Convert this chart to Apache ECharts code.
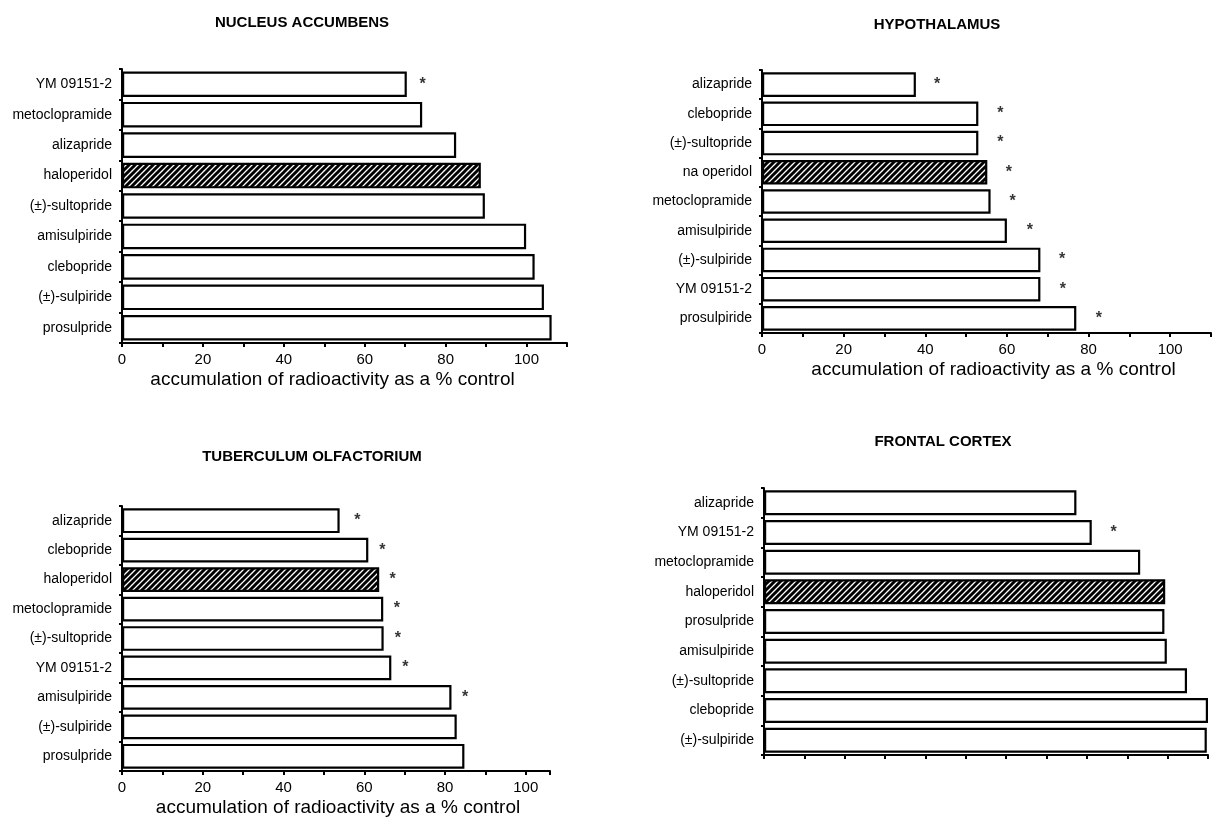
<!DOCTYPE html>
<html>
<head>
<meta charset="utf-8">
<script src="https://cdn.jsdelivr.net/npm/echarts@6/dist/echarts.min.js"></script>
<style>
html,body{margin:0;padding:0;background:#fff;}
#c{width:1215px;height:825px;}
</style>
</head>
<body>
<div id="c"></div>
<script>
// ---- data ----
const titles = ['NUCLEUS ACCUMBENS', 'HYPOTHALAMUS', 'TUBERCULUM OLFACTORIUM', 'FRONTAL CORTEX'];
const axisName = 'accumulation of radioactivity as a % control';

const naCats  = ['YM 09151-2', 'metoclopramide', 'alizapride', 'haloperidol', '(±)-sultopride', 'amisulpiride', 'clebopride', '(±)-sulpiride', 'prosulpride'];
const naVals  = [70.4, 74.2, 82.6, 88.7, 89.7, 99.9, 102, 104.3, 106.2];
const naStars = [74.3, null, null, null, null, null, null, null, null];

const hyCats  = ['alizapride', 'clebopride', '(±)-sultopride', 'na operidol', 'metoclopramide', 'amisulpiride', '(±)-sulpiride', 'YM 09151-2', 'prosulpiride'];
const hyVals  = [37.7, 53, 53, 55.2, 56, 60, 68.2, 68.2, 77];
const hyStars = [42.9, 58.4, 58.4, 60.5, 61.4, 65.6, 73.5, 73.7, 82.5];

const toCats  = ['alizapride', 'clebopride', 'haloperidol', 'metoclopramide', '(±)-sultopride', 'YM 09151-2', 'amisulpiride', '(±)-sulpiride', 'prosulpride'];
const toVals  = [53.9, 61, 63.7, 64.7, 64.8, 66.7, 81.6, 82.9, 84.8];
const toStars = [58.3, 64.5, 67, 68.1, 68.3, 70.2, 85, null, null];

const fcCats  = ['alizapride', 'YM 09151-2', 'metoclopramide', 'haloperidol', 'prosulpride', 'amisulpiride', '(±)-sultopride', 'clebopride', '(±)-sulpiride'];
const fcVals  = [77.4, 81.2, 93.2, 99.4, 99.2, 99.8, 104.8, 110, 109.7];
const fcStars = [null, 86.6, null, null, null, null, null, null, null];

const tickLabels = [0, 20, 40, 60, 80, 100];

// ---- hatch pattern ----
function makeHatch() {
  const s = 6;
  const cv = document.createElement('canvas');
  cv.width = s; cv.height = s;
  const ctx = cv.getContext('2d');
  ctx.fillStyle = '#fff';
  ctx.fillRect(0, 0, s, s);
  ctx.strokeStyle = '#000';
  ctx.lineWidth = 3;
  ctx.beginPath();
  ctx.moveTo(-1, s + 1); ctx.lineTo(s + 1, -1);
  ctx.moveTo(-1, 1); ctx.lineTo(1, -1);
  ctx.moveTo(s - 1, s + 1); ctx.lineTo(s + 1, s - 1);
  ctx.stroke();
  return cv;
}
const hatch = makeHatch();

const FONT = '"Liberation Sans", Arial, Helvetica, sans-serif';

const panels = [
  { cats: naCats, vals: naVals, stars: naStars, grid: { left: 122, top: 69, width: 445, height: 274 }, max: 110, labels: true, namePad: [0, 24, 0, 0], title: { left: 297, top: 10 } },
  { cats: hyCats, vals: hyVals, stars: hyStars, grid: { left: 762, top: 70, width: 449, height: 263 }, max: 110, labels: true, namePad: [0, 0, 0, 14], title: { left: 932, top: 12 } },
  { cats: toCats, vals: toVals, stars: toStars, grid: { left: 122, top: 506, width: 428, height: 265 }, max: 106, labels: true, namePad: [0, 0, 0, 4], title: { left: 307, top: 444 } },
  { cats: fcCats, vals: fcVals, stars: fcStars, grid: { left: 764, top: 488, width: 444, height: 267 }, max: 110, labels: false, namePad: [0, 0, 0, 0], title: { left: 938, top: 429 } }
];

const option = {
  backgroundColor: '#fff',
  animation: false,
  title: panels.map((p, i) => ({
    text: titles[i], left: p.title.left, top: p.title.top, textAlign: 'center',
    textStyle: { fontFamily: FONT, fontSize: 15, fontWeight: 'bold', color: '#000' }
  })),
  grid: panels.map(p => Object.assign({ containLabel: false }, p.grid)),
  xAxis: panels.map((p, i) => ({
    type: 'value', gridIndex: i, min: 0, max: p.max, interval: 10,
    splitLine: { show: false },
    axisLine: { show: true, lineStyle: { color: '#000', width: 2 } },
    axisTick: { show: true, length: 4, lineStyle: { color: '#000', width: 2 } },
    axisLabel: {
      show: p.labels, margin: 9, color: '#000', fontFamily: FONT, fontSize: 15,
      formatter: v => (tickLabels.indexOf(v) >= 0 ? String(v) : '')
    },
    name: p.labels ? axisName : '',
    nameLocation: 'middle', nameGap: 27,
    nameTextStyle: { fontFamily: FONT, fontSize: 19, color: '#000', padding: p.namePad }
  })),
  yAxis: panels.map((p, i) => ({
    type: 'category', gridIndex: i, data: p.cats, inverse: true,
    axisLine: { show: true, lineStyle: { color: '#000', width: 2 } },
    axisTick: { show: true, length: 3, lineStyle: { color: '#000', width: 2 } },
    axisLabel: { color: '#000', fontFamily: FONT, fontSize: 14, margin: 10 },
    splitLine: { show: false }
  })),
  series: []
};

panels.forEach((p, i) => {
  option.series.push({
    type: 'bar', xAxisIndex: i, yAxisIndex: i,
    barCategoryGap: '16%',
    data: p.vals.map((v, k) => ({
      value: v,
      itemStyle: /operidol/.test(p.cats[k])
        ? { color: { image: hatch, repeat: 'repeat' }, borderColor: '#000', borderWidth: 2.2 }
        : { color: '#fff', borderColor: '#000', borderWidth: 2.2 }
    }))
  });
  option.series.push({
    type: 'scatter', xAxisIndex: i, yAxisIndex: i,
    symbolSize: 1, itemStyle: { color: 'rgba(0,0,0,0)' },
    label: { show: true, position: 'inside', formatter: '*', color: '#000', fontFamily: FONT, fontSize: 16, fontWeight: 'bold' },
    data: p.stars.map((v, k) => (v == null ? null : [v, p.cats[k]])).filter(d => d)
  });
});

const chart = echarts.init(document.getElementById('c'), null, { renderer: 'canvas' });
chart.setOption(option);
</script>
</body>
</html>
